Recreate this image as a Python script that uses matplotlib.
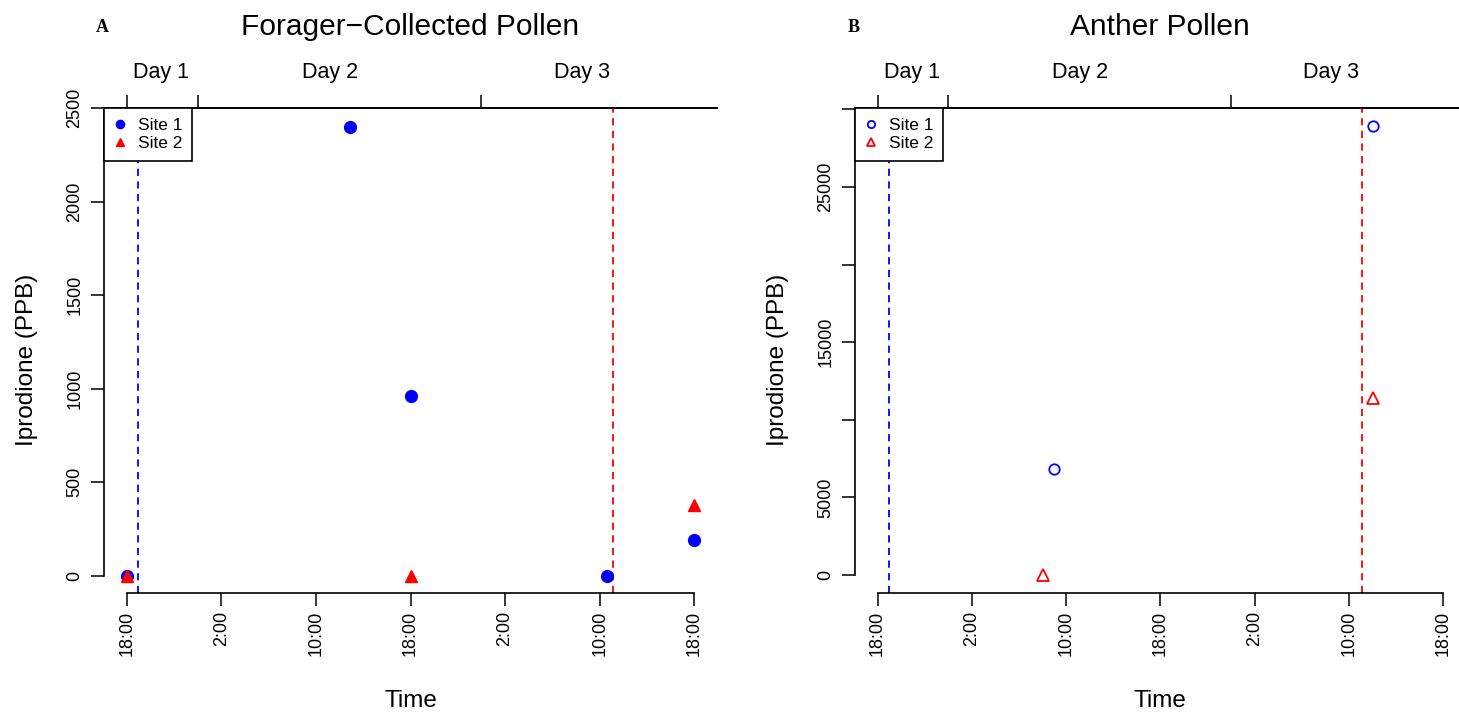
import matplotlib
matplotlib.use("Agg")
import matplotlib.pyplot as plt
import matplotlib.transforms as mtransforms

plt.rcParams['font.family'] = ['Liberation Sans', 'DejaVu Sans']

BLUE = "#0000ff"
RED = "#ff0000"

# hours after 18:00 on Day 1
time_ticks = [0, 8, 16, 24, 32, 40, 48]
time_labels = ["18:00", "2:00", "10:00", "18:00", "2:00", "10:00", "18:00"]
day_bounds = [0, 6, 30]
day_pos = [2.9, 17.2, 38.5]
day_labels = ["Day 1", "Day 2", "Day 3"]
event_site1 = 0.93
event_site2 = 41.1

# A: forager-collected pollen
fc_site1_t = [0, 18.9, 24, 40.6, 48]
fc_site1_v = [0, 2400, 960, 0, 190]
fc_site2_t = [0, 24, 48]
fc_site2_v = [0, 0, 380]
fc_yticks = [0, 500, 1000, 1500, 2000, 2500]
fc_ylabels = ["0", "500", "1000", "1500", "2000", "2500"]

# B: anther pollen
an_site1_t = [15.0, 42.1]
an_site1_v = [6830, 28930]
an_site2_t = [14.0, 42.1]
an_site2_v = [0, 11400]
an_yticks = [0, 5000, 10000, 15000, 20000, 25000, 30000]
an_ylabels = ["0", "5000", "", "15000", "", "25000", ""]

fig = plt.figure(figsize=(14.59, 7.13), dpi=100)
axA = fig.add_axes([104/1459, 1-593/713, 613/1459, 485/713])
axB = fig.add_axes([855/1459, 1-593/713, 610.6/1459, 485/713])

def setup(ax, letter, title, yticks, ylabels, ylim, ybound):
    ax.set_xlim(-1.92, 49.92)
    ax.set_ylim(*ylim)
    ax.spines['right'].set_visible(False)
    for s in ('left', 'bottom', 'top'):
        ax.spines[s].set_linewidth(1.2)
    ax.spines['left'].set_bounds(0, ybound)
    ax.spines['bottom'].set_bounds(0, 48)
    ax.set_xticks(time_ticks)
    ax.set_xticklabels(time_labels, rotation=90)
    ax.set_yticks(yticks)
    ax.set_yticklabels(ylabels, rotation=90, va='center')
    ax.tick_params(length=9.5, width=1.1, labelsize=13)
    ax.tick_params(axis='x', pad=3.5)
    ax.tick_params(axis='y', pad=5.5)
    ax.set_xlabel("Time", fontsize=17.5, va='center')
    ax.set_ylabel("Iprodione (PPB)", fontsize=17.5, va='center')
    ax.xaxis.set_label_coords(0.5, -0.222)
    ax.yaxis.set_label_coords(-0.126, 0.48)
    # day axis on top
    top = ax.secondary_xaxis('top')
    top.set_xticks(day_bounds)
    top.set_xticklabels([""] * len(day_bounds))
    top.tick_params(length=9.5, width=1.1)
    top.spines['top'].set_linewidth(1.2)
    tr = mtransforms.blended_transform_factory(ax.transData, ax.transAxes)
    for p, lab in zip(day_pos, day_labels):
        ax.text(p, 1.074, lab, transform=tr, ha='center', va='center', fontsize=15.5)
    ax.text(0.5, 1.168, title, transform=ax.transAxes, ha='center', va='center', fontsize=21.5)
    ax.text(-0.002, 1.165, letter, transform=ax.transAxes, ha='center', va='center',
            fontsize=13, fontweight='bold', family='Liberation Serif')
    ax.axvline(event_site1, color=BLUE, lw=1.3, ls=(0, (4, 3)))
    ax.axvline(event_site2, color=RED, lw=1.3, ls=(0, (4, 3)))

setup(axA, "A", "Forager\u2212Collected Pollen", fc_yticks, fc_ylabels, (-91, 2500), 2500)
setup(axB, "B", "Anther Pollen", an_yticks, an_ylabels, (-1157, 30087), 30000)

axA.plot(fc_site1_t, fc_site1_v, 'o', color=BLUE, ms=8.5, mec=BLUE, ls='none', label="Site 1", clip_on=False)
axA.plot(fc_site2_t, fc_site2_v, '^', color=RED, ms=8, mec=RED, ls='none', label="Site 2", clip_on=False)

axB.plot(an_site1_t, an_site1_v, 'o', mfc='none', mec=BLUE, mew=1.3, ms=7.5, ls='none', label="Site 1", clip_on=False)
axB.plot(an_site2_t, an_site2_v, '^', mfc='none', mec=RED, mew=1.3, ms=8, ls='none', label="Site 2", clip_on=False)

for ax in (axA, axB):
    leg = ax.legend(loc='upper left', borderaxespad=0, fancybox=False, fontsize=12.5,
                    markerscale=0.7, handlelength=0.8, handletextpad=0.6,
                    labelspacing=0.2, borderpad=0.55, framealpha=1)
    leg.get_frame().set_edgecolor('black')
    leg.get_frame().set_linewidth(1.2)

fig.savefig("out.png", dpi=100)
